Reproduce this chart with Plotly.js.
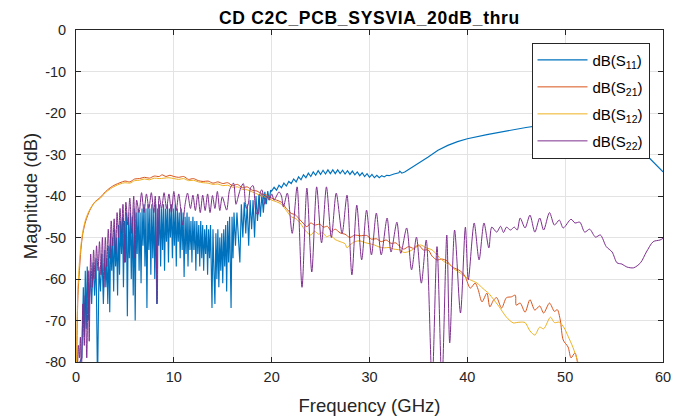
<!DOCTYPE html>
<html>
<head>
<meta charset="utf-8">
<script src="https://cdn.plot.ly/plotly-3.0.1.min.js"></script>
<style>html,body{margin:0;padding:0;background:#fff}#chart{width:677px;height:419px}
.gtitle{letter-spacing:0.7px}</style>
</head>
<body>
<div id="chart"></div>
<script>
// ---- Data (frequency GHz, magnitude dB) ----
var chartTitle = "CD C2C_PCB_SYSVIA_20dB_thru";
var seriesNames = ["dB(S<sub>11</sub>)", "dB(S<sub>21</sub>)", "dB(S<sub>12</sub>)", "dB(S<sub>22</sub>)"];
var xTicks = [0, 10, 20, 30, 40, 50, 60];
var yTicks = [0, -10, -20, -30, -40, -50, -60, -70, -80];

var s11 = [
[0.0,-95],[0.2,-86],[0.4,-80],[0.6,-79],[0.75,-62],[0.85,-74],[0.95,-58],[1.05,-72],[1.15,-57],[1.3,-70],
[1.45,-58],[1.6,-66],[1.75,-56],[1.9,-64],[2.05,-55],[2.2,-86],[2.35,-57],[2.5,-63],[2.65,-54],[2.8,-66],
[2.95,-53],[3.05,-62],[3.15,-55],[3.25,-66],[3.35,-52],[3.45,-68],[3.55,-49],[3.65,-58],[3.75,-50],[3.85,-63],
[3.95,-48],[4.05,-57],[4.15,-50],[4.25,-64],[4.35,-47],[4.45,-59],[4.55,-46],[4.65,-54],[4.75,-45],[4.85,-62],
[4.95,-46],[5.05,-56],[5.15,-44],[5.25,-69],[5.35,-45],[5.45,-55],[5.55,-44],[5.65,-60],[5.75,-45],[5.85,-64],
[5.95,-43],[6.05,-70],[6.15,-44],[6.25,-54],[6.35,-43],[6.45,-58],[6.55,-44],[6.65,-61],[6.75,-43],[6.85,-52],
[6.95,-42],[7.05,-57],[7.15,-43],[7.25,-67],[7.35,-42],[7.45,-53],[7.55,-43],[7.65,-59],[7.75,-42],[7.85,-55],
[7.95,-43],[8.05,-60],[8.15,-42],[8.25,-66],[8.35,-43],[8.45,-52],[8.55,-42],[8.65,-57],[8.75,-43],[8.85,-53],
[8.95,-42],[9.05,-58],[9.15,-43],[9.25,-51],[9.35,-42],[9.45,-56],[9.55,-43],[9.65,-50],[9.75,-42],[9.85,-55],
[9.95,-43],[10.05,-52],[10.15,-42],[10.25,-57],[10.35,-43],[10.45,-51],[10.55,-44],[10.65,-55],[10.75,-43],[10.85,-53],
[10.95,-44],[11.05,-59.5],[11.15,-45],[11.25,-54],[11.35,-44],[11.45,-57],[11.55,-45],[11.65,-53],[11.75,-46],[11.85,-56],
[11.95,-45],[12.05,-53],[12.15,-46],[12.25,-58],[12.35,-46],[12.45,-54],[12.55,-47],[12.65,-57],[12.75,-46],[12.85,-55],
[12.95,-47],[13.05,-58],[13.15,-48],[13.25,-54],[13.35,-47],[13.45,-59],[13.55,-48],[13.65,-55],[13.75,-47],[13.9,-67],
[14.0,-48],[14.1,-58],[14.2,-66],[14.3,-49],[14.4,-60],[14.5,-48],[14.6,-62],[14.7,-50],[14.8,-58],[14.9,-49],
[15.0,-61],[15.1,-48],[15.2,-57],[15.3,-47],[15.4,-63],[15.5,-46],[15.6,-56],[15.7,-45],[15.85,-67],[15.95,-45],
[16.05,-55],[16.15,-44],[16.3,-52],[16.45,-44],[16.6,-50],[16.75,-56],[16.9,-42],[17.05,-50],[17.2,-41.5],[17.35,-49],
[17.5,-42],[17.65,-52],[17.8,-41],[17.95,-48],[18.1,-41],[18.25,-50],[18.4,-40],[18.55,-46],[18.7,-39.5],[18.85,-45],
[19.0,-39.5],[19.15,-44],[19.3,-39],[19.45,-42],[19.6,-38.8],[19.75,-41],[19.9,-38.6],
[20.0,-38.8],[20.25,-37.9],[20.5,-38.6],[20.75,-37.4],[21.0,-38.0],[21.25,-36.9],[21.5,-37.6],[21.75,-36.5],
[22.0,-37.0],[22.25,-35.9],[22.5,-36.6],[22.75,-35.4],[23.0,-36.1],[23.25,-34.9],[23.5,-35.6],[23.75,-34.5],
[24.0,-35.3],[24.25,-34.2],[24.5,-35.0],[24.75,-33.9],[25.0,-34.8],[25.25,-33.8],[25.5,-34.7],[25.75,-33.7],
[26.0,-34.6],[26.25,-33.7],[26.5,-34.6],[26.75,-33.7],[27.0,-34.6],[27.25,-33.8],[27.5,-34.7],[27.75,-33.9],
[28.0,-34.8],[28.25,-34.0],[28.5,-34.9],[28.75,-34.2],[29.0,-35.1],[29.25,-34.4],[29.5,-35.3],[29.75,-34.6],
[30.0,-35.5],[30.25,-34.8],[30.5,-35.6],[30.75,-35.0],[31.0,-35.6],[31.25,-35.1],[31.5,-35.4],[31.75,-35.0],
[32.0,-35.1],[32.5,-34.7],[33.0,-34.4],[33.1,-34.0],[33.3,-34.5],[33.6,-34.2],[34.0,-33.6],[35.0,-32.3],
[36.0,-30.6],[37.0,-29.0],[38.0,-27.8],[39.0,-26.9],[40.0,-26.2],[42.0,-25.2],[44.0,-24.3],[46.0,-23.5],
[48.0,-22.8],[50.0,-22.4],[52.0,-22.4],[54.0,-23.4],[55.5,-25.0],[57.0,-27.8],[58.5,-30.6],[60.0,-34.2]
];

var s21 = [
[0.0,-100],[0.1,-75],[0.2,-64],[0.35,-58],[0.5,-53],[0.7,-49],[1.0,-46],[1.4,-43.5],[1.9,-41.5],[2.5,-40.3],
[3.0,-39],[3.5,-38],[4.0,-37.3],[4.5,-36.8],[5.0,-36.4],[5.5,-36.6],[6.0,-35.9],[6.5,-35.8],[7.0,-35.5],[7.5,-35.7],
[8.0,-35.2],[8.5,-35.3],[8.8,-34.9],[9.2,-35.3],[9.6,-35.0],[10.0,-35.3],[10.5,-35.5],[11.0,-35.3],[11.5,-36.0],[12.0,-35.8],
[12.5,-36.3],[13.0,-36.5],[13.5,-36.4],[14.0,-36.9],[14.5,-36.6],[15.0,-37.0],[15.5,-36.8],[16.0,-37.5],[16.5,-37.2],[17.0,-38.0],
[17.5,-37.8],[18.0,-38.6],[18.5,-38.8],[19.0,-39.5],[19.5,-39.8],[20.0,-40.5],[20.5,-41.0],[21.0,-41.5],[21.5,-43.0],[22.0,-44.2],
[22.4,-44.5],[22.8,-45.5],[23.2,-46.5],[23.6,-47.4],[24.0,-46.5],[24.4,-47.0],[24.9,-46.8],[25.3,-47.5],[25.7,-47.3],[26.1,-48.5],
[26.5,-48.0],[27.0,-48.9],[27.5,-49.2],[28.0,-50.0],[28.5,-49.4],[29.0,-49.6],[29.7,-49.5],[30.2,-50.4],[30.7,-50.3],[31.2,-51.0],
[31.7,-50.6],[32.2,-51.4],[32.7,-51.3],[33.1,-52.2],[33.5,-52.8],[34.0,-52.2],[34.5,-52.6],[35.0,-51.8],[35.5,-53.0],[36.0,-53.0],
[36.4,-54.5],[36.9,-55.4],[37.4,-55.2],[37.9,-55.6],[38.2,-56.5],[38.6,-57.3],[39.1,-57.8],[39.5,-58.5],[39.8,-59.5],[40.3,-62.2],
[40.8,-61.0],[41.1,-62.5],[41.5,-65.5],[42.0,-63.4],[42.3,-66.7],[42.7,-65.0],[43.0,-64.5],[43.5,-67.0],[44.0,-64.5],[44.5,-64.3],
[44.9,-63.9],[45.0,-66.3],[45.4,-65.8],[45.9,-68.0],[46.4,-65.0],[46.9,-67.5],[47.4,-66.5],[47.8,-68.2],[48.4,-65.8],[48.9,-67.8],
[49.2,-67.4],[49.5,-69.9],[49.8,-74.7],[50.3,-76.4],[50.6,-79.0],[51.0,-77.8],[51.3,-80.5],[51.6,-83],[52.0,-86]
];

var s12 = [
[0.0,-100],[0.1,-72],[0.2,-62],[0.35,-56],[0.5,-52],[0.7,-48.5],[1.0,-45.5],[1.4,-43.3],[1.9,-41.6],[2.5,-40.5],
[3.0,-39.2],[3.5,-38.3],[4.0,-37.6],[4.5,-37.1],[5.0,-36.8],[5.5,-36.9],[6.0,-36.3],[6.5,-36.2],[7.0,-35.9],[7.5,-36.1],
[8.0,-35.7],[8.5,-35.8],[9.0,-35.7],[9.5,-35.6],[10.0,-35.8],[10.5,-36.0],[11.0,-35.8],[11.5,-36.3],[12.0,-36.2],[12.5,-36.6],
[13.0,-36.8],[13.5,-36.9],[14.0,-37.2],[14.5,-37.1],[15.0,-37.5],[15.5,-37.4],[16.0,-37.9],[16.5,-37.8],[17.0,-38.4],[17.5,-38.5],
[18.0,-39.0],[18.5,-39.5],[19.0,-40.0],[19.5,-40.4],[20.0,-41.0],[20.5,-41.4],[21.0,-42.0],[21.5,-43.5],[22.0,-45.0],[22.5,-45.5],
[23.0,-46.8],[23.5,-48.5],[24.0,-49.4],[24.4,-48.5],[24.8,-49.2],[25.2,-48.8],[25.6,-49.8],[26.0,-49.5],[26.5,-50.5],[27.0,-51.0],
[27.5,-51.5],[27.7,-52.5],[28.0,-51.8],[28.5,-51.0],[29.0,-50.8],[29.5,-51.2],[30.0,-51.5],[30.5,-51.8],[31.0,-52.3],[31.5,-52.5],
[32.0,-52.4],[32.5,-52.8],[33.1,-53.0],[33.5,-53.6],[34.0,-53.4],[34.5,-52.8],[35.2,-51.8],[35.8,-52.5],[36.4,-53.0],[36.9,-54.2],
[37.4,-55.4],[37.9,-56.2],[38.2,-56.5],[38.6,-57.5],[39.3,-58.6],[39.8,-59.5],[40.3,-60.2],[41.0,-61.0],[41.6,-62.3],[42.2,-63.5],
[42.7,-65.0],[43.2,-66.5],[44.0,-69.2],[44.7,-70.6],[45.0,-70.5],[45.4,-70.4],[45.9,-70.5],[46.4,-72.5],[46.9,-73.5],[47.4,-71.6],
[47.8,-72.0],[48.5,-69.2],[48.9,-70.5],[49.4,-70.4],[49.9,-71.8],[50.3,-73.8],[50.8,-76.5],[51.3,-80.0],[51.6,-83],[52.0,-86]
];

var s22 = [
[0.0,-95],[0.15,-82],[0.25,-76],[0.35,-79],[0.45,-74],[0.55,-84],[0.7,-66],[0.85,-76],[0.95,-64],[1.1,-79],
[1.25,-58],[1.35,-75],[1.5,-54],[1.65,-62],[1.8,-53],[1.95,-60],[2.1,-52],[2.25,-58],[2.4,-51],[2.55,-59],
[2.7,-50],[2.85,-62],[3.0,-50],[3.15,-57],[3.3,-48],[3.45,-55],[3.6,-46],[3.75,-52],[3.9,-45.5],[4.05,-54],
[4.2,-44],[4.35,-50],[4.5,-43],[4.65,-49],[4.8,-42],[4.95,-56],[5.1,-41.5],[5.3,-47],[5.5,-40.5],[5.7,-49],
[5.9,-40],[6.05,-55],[6.2,-41],[6.45,-44],[6.7,-39.2],[6.95,-44],[7.2,-39.5],[7.45,-43],[7.7,-39.2],[7.95,-44],
[8.1,-40],[8.3,-66],[8.5,-40],[8.75,-43],[9.0,-39.2],[9.25,-43],[9.5,-39.5],[9.75,-44],[10.0,-38.9],[10.25,-43.5],
[10.5,-39.5],[10.9,-47],[11.15,-42],[11.4,-39.3],[11.7,-43],[11.95,-39.8],[12.2,-43.5],[12.45,-39.5],[12.7,-44],[12.95,-39.8],
[13.2,-43.5],[13.45,-39.5],[13.7,-44],[13.95,-39.9],[14.2,-43],[14.45,-38.9],[14.7,-43.5],[14.95,-40.2],[15.4,-43.4],[15.7,-38.5],
[16.1,-36.9],[16.35,-42],[16.6,-40],[16.85,-38],[17.1,-37],[17.4,-43],[17.6,-42],[17.85,-38],[18.1,-37.5],[18.4,-44],
[18.6,-44.5],[18.85,-39],[19.0,-38.5],[19.3,-42],[19.5,-40],[19.75,-41],[20.0,-39.5],[20.25,-41],[20.5,-40],[20.75,-39],
[21.0,-40],[21.2,-42.6],[21.6,-39.3],[22.1,-49],[22.6,-37.8],[23.1,-62],[23.6,-38.1],[24.1,-58.3],[24.6,-37.8],[25.1,-51.3],
[25.6,-37.8],[26.1,-50],[26.6,-39.3],[27.2,-49],[27.7,-39.8],[28.2,-59],[28.7,-42.2],[29.2,-55.4],[29.7,-43.4],[30.2,-54.2],
[30.7,-44.1],[31.2,-54.2],[31.8,-45.3],[32.2,-53.5],[32.8,-46.3],[33.2,-53.8],[33.8,-47.7],[34.3,-57.8],[34.8,-49.9],[35.3,-61],
[35.8,-50.6],[36.4,-85],[36.9,-52.2],[37.4,-85],[37.9,-49.4],[38.2,-75.4],[38.7,-48.2],[39.3,-68.2],[39.8,-47.5],[40.1,-60.2],
[40.7,-46.5],[41.2,-55.4],[41.7,-46.5],[42.2,-52.5],[42.5,-47.5],[43.0,-48.7],[43.4,-47.3],[43.7,-48.8],[44.0,-47.5],[44.4,-48.2],
[44.8,-47.5],[45.1,-48.2],[45.4,-45.3],[45.9,-47.7],[46.4,-44.6],[46.9,-48.7],[47.4,-45.3],[47.8,-48.2],[48.4,-44],[48.9,-47],
[49.4,-45.8],[49.8,-47.7],[50.6,-45.6],[51.0,-46.5],[51.5,-46.3],[52.0,-48.7],[52.5,-48],[53.1,-49.9],[53.6,-49.4],[54.2,-52.2],
[54.8,-53.5],[55.3,-56.1],[55.8,-56.4],[56.3,-57.1],[57.0,-57.3],[57.7,-56.1],[58.3,-53.5],[59.0,-51],[59.7,-50.6],[60.0,-50.2]
];

var colors = ["#0072BD", "#D95319", "#EDB120", "#7E2F8E"];
var widths = [1.15, 1, 1, 1];

function mk(pairs, i, shape) {
  return {
    x: pairs.map(function(p){return p[0];}),
    y: pairs.map(function(p){return p[1];}),
    type: "scatter", mode: "lines", name: seriesNames[i], legendgroup: "g" + i,
    line: {color: colors[i], width: widths[i], shape: shape || "linear", smoothing: 0.8}
  };
}

var data = [mk(s11,0), mk(s21,1,"spline"), mk(s12,2,"spline"), mk(s22,3,"spline")];

var fam = "Liberation Sans, Arial, sans-serif";
var axisFont = {family: fam, size: 14.5, color: "#262626"};
var layout = {
  width: 677, height: 419,
  margin: {l: 76, r: 14, t: 30, b: 57},
  paper_bgcolor: "#fff", plot_bgcolor: "#fff",
  showlegend: true,
  title: {text: "<b>" + chartTitle + "</b>", xref: "paper", x: 0.5, xanchor: "center", y: 0.958, yanchor: "middle", yref: "container",
          font: {family: fam, size: 17.5, color: "#000"}},
  xaxis: {range: [0, 60], tickvals: xTicks, ticktext: xTicks.map(String), ticks: "inside", ticklen: 5, tickcolor: "#262626",
          showline: true, linecolor: "#262626", linewidth: 1, mirror: "ticks", showgrid: true, gridcolor: "#e3e3e3",
          zeroline: false, tickfont: axisFont, ticklabelstandoff: 2,
          title: {text: "Frequency (GHz)", font: {family: fam, size: 18.5, color: "#262626"}, standoff: 14}},
  yaxis: {range: [-80, 0], tickvals: yTicks, ticktext: yTicks.map(String), ticks: "inside", ticklen: 5, tickcolor: "#262626",
          showline: true, linecolor: "#262626", linewidth: 1, mirror: "ticks", showgrid: true, gridcolor: "#e3e3e3",
          zeroline: false, tickfont: axisFont, ticklabelstandoff: 6,
          title: {text: "Magnitude (dB)", font: {family: fam, size: 18.5, color: "#262626"}, standoff: 2}},
  legend: {x: 0.776, y: 0.962, xanchor: "left", yanchor: "top", bgcolor: "#fff", bordercolor: "#262626", borderwidth: 1,
           font: {family: fam, size: 15, color: "#000"}, itemwidth: 50, tracegroupgap: 4.5}
};

Plotly.newPlot("chart", data, layout, {staticPlot: true, displayModeBar: false});
</script>
</body>
</html>
